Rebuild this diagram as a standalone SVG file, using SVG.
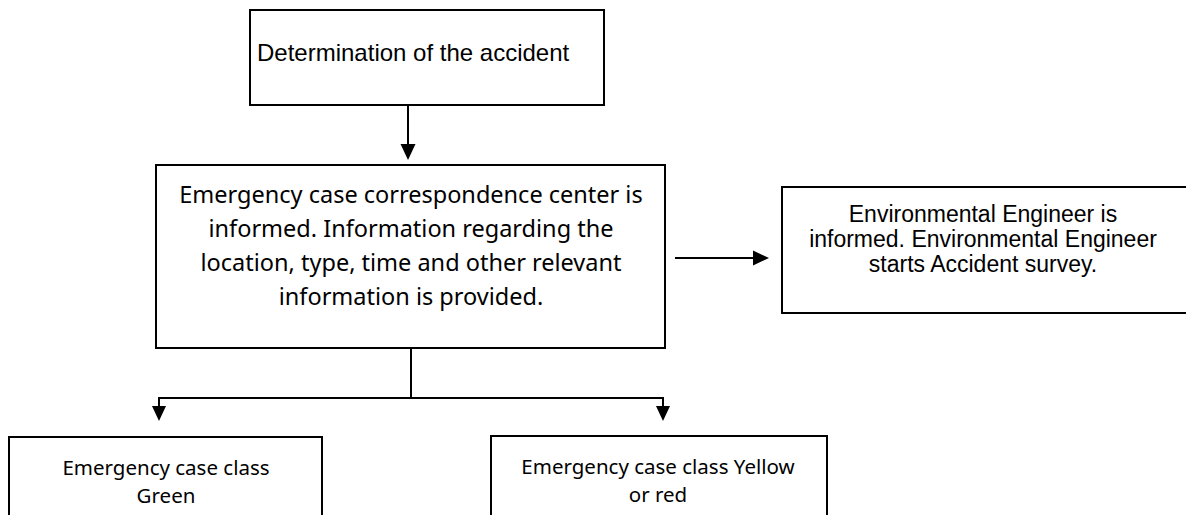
<svg xmlns="http://www.w3.org/2000/svg" width="1186" height="515" viewBox="0 0 1186 515">
<style>
.box{fill:#fff;stroke:#000;stroke-width:2}
.ar{font-family:"Liberation Sans",Arial,sans-serif;fill:#000}
.ca{font-family:"Noto Sans","Open Sans",sans-serif;fill:#000;text-anchor:middle}
.ln{stroke:#000;stroke-width:2;fill:none}
.hd{fill:#000}
</style>
<rect width="1186" height="515" fill="#fff"/>
<g id="connectors">
<line class="ln" x1="408" y1="105" x2="408" y2="146"/>
<path class="hd" d="M400.5,144 L415.5,144 L408,160 z"/>
<line class="ln" x1="675" y1="258" x2="755" y2="258"/>
<path class="hd" d="M753,250.5 L753,265.5 L769,258 z"/>
<line class="ln" x1="411" y1="348" x2="411" y2="398"/>
<polyline class="ln" points="159,408 159,398 663,398 663,408"/>
<path class="hd" d="M152,406 L166,406 L159,421 z"/>
<path class="hd" d="M656,406 L670,406 L663,421 z"/>
</g>
<g id="n1">
<rect class="box" x="250" y="10" width="354" height="95"/>
<text class="ar" font-size="24" x="257" y="61">Determination of the accident</text>
</g>
<g id="n2">
<rect class="box" x="156" y="165" width="509" height="183"/>
<text class="ca" font-size="23.5" x="411" y="203">Emergency case correspondence center is</text>
<text class="ca" font-size="23.5" x="411" y="237">informed. Information regarding the</text>
<text class="ca" font-size="23.5" x="411" y="271">location, type, time and other relevant</text>
<text class="ca" font-size="23.5" x="411" y="305">information is provided.</text>
</g>
<g id="n3">
<rect class="box" x="782" y="187" width="410" height="126"/>
<text class="ar" text-anchor="middle" font-size="23" x="983" y="222">Environmental Engineer is</text>
<text class="ar" text-anchor="middle" font-size="23" x="983" y="247">informed. Environmental Engineer</text>
<text class="ar" text-anchor="middle" font-size="23" x="983" y="272">starts Accident survey.</text>
</g>
<g id="n4">
<rect class="box" x="9" y="437" width="313" height="90"/>
<text class="ca" font-size="20.5" x="166" y="475">Emergency case class</text>
<text class="ca" font-size="20.5" x="166" y="503">Green</text>
</g>
<g id="n5">
<rect class="box" x="491" y="436" width="336" height="90"/>
<text class="ca" font-size="20.5" x="658" y="474">Emergency case class Yellow</text>
<text class="ca" font-size="20.5" x="658" y="502">or red</text>
</g>
</svg>
